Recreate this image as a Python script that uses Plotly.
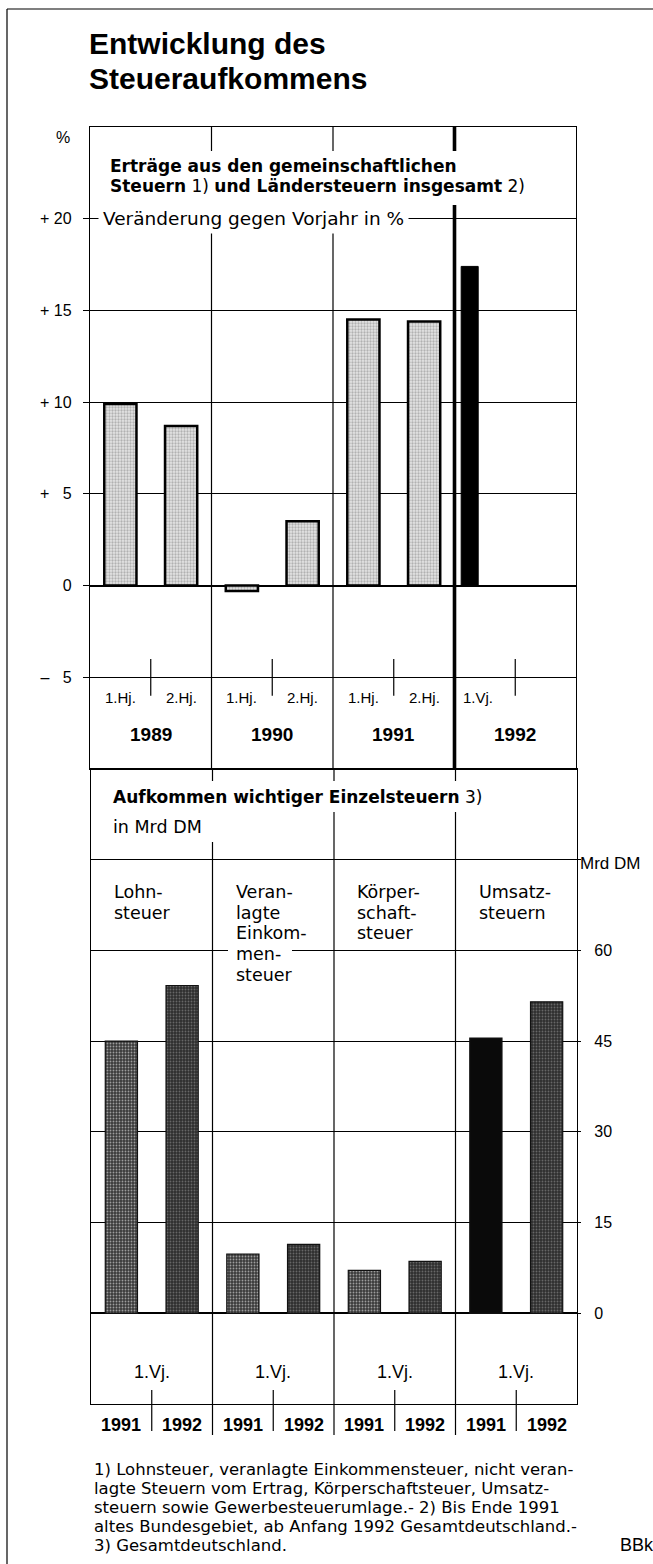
import plotly.graph_objects as go

W, H = 653, 1564

# ---------------- data: upper panel (change on previous year, %)
period_years = ["1989", "1989", "1990", "1990", "1991", "1991", "1992"]
periods = ["1.Hj.", "2.Hj.", "1.Hj.", "2.Hj.", "1.Hj.", "2.Hj.", "1.Vj."]
growth = [9.9, 8.7, -0.3, 3.5, 14.5, 14.4, 17.4]
year_labels = ["1989", "1990", "1991", "1992"]
growth_ticks = [-5, 0, 5, 10, 15, 20]
growth_ticktext = ["\u2013 \u20075", "0", "+ \u20075", "+ 10", "+ 15", "+ 20"]

# ---------------- data: lower panel (revenue, bn DM, 1st quarter)
taxes = ["Lohnsteuer", "Veranlagte Einkommensteuer", "Körperschaftsteuer", "Umsatzsteuern"]
tax_label_lines = [["Lohn-", "steuer"],
                   ["Veran-", "lagte", "Einkom-", "men-", "steuer"],
                   ["Körper-", "schaft-", "steuer"],
                   ["Umsatz-", "steuern"]]
tax_years = ["1991", "1992"]
revenue_1991 = [45.0, 9.8, 7.1, 45.5]
revenue_1992 = [54.2, 11.4, 8.6, 51.5]
revenue_ticks = [0, 15, 30, 45, 60, 75]
revenue_ticktext = ["0", "15", "30", "45", "60", ""]

footnote_lines = [
    "1) Lohnsteuer, veranlagte Einkommensteuer, nicht veran-",
    "lagte Steuern vom Ertrag, Körperschaftsteuer, Umsatz-",
    "steuern sowie Gewerbesteuerumlage.- 2) Bis Ende 1991",
    "altes Bundesgebiet, ab Anfang 1992 Gesamtdeutschland.-",
    "3) Gesamtdeutschland.",
]

LIB = "Liberation Sans, Arial, Helvetica, sans-serif"
DJV = "DejaVu Sans, Verdana, sans-serif"


def px(x):
    return x / W


def py(y):
    return 1 - y / H


# geometry (pixels) of the two panels
TOP_L, TOP_R, TOP_T, TOP_B = 90, 576, 127, 769
LOW_L, LOW_R, LOW_T, LOW_B = 91, 577, 769, 1404

fig = go.Figure()

# ---- upper bars
top_cats = [f"{y} {p}" for y, p in zip(period_years, periods)]
fig.add_trace(go.Bar(
    x=top_cats[:6], y=growth[:6], xaxis="x", yaxis="y", width=0.53,
    marker=dict(color="#d0d0d0", line=dict(color="black", width=2.5),
                pattern=dict(shape=".", fgcolor="#7d7d7d", bgcolor="#e4e4e4",
                             size=3, solidity=0.45)),
    name="altes Bundesgebiet", showlegend=False, hoverinfo="x+y"))
BLACK_OFF, BLACK_W = -0.39, 0.28
fig.add_trace(go.Bar(
    x=top_cats[6:], y=growth[6:], xaxis="x", yaxis="y", width=BLACK_W, offset=BLACK_OFF,
    marker=dict(color="black", line=dict(color="black", width=1)),
    name="Gesamtdeutschland", showlegend=False, hoverinfo="x+y"))

# ---- lower bars
low_cats = [f"{t} {yr}" for t in taxes for yr in tax_years]
fig.add_trace(go.Bar(
    x=[f"{t} 1991" for t in taxes], y=revenue_1991, xaxis="x2", yaxis="y2", width=0.53,
    marker=dict(color=["#3a3a3a", "#3a3a3a", "#3a3a3a", "#0a0a0a"],
                line=dict(color="#111", width=1.2), pattern=dict(
                    shape=[".", ".", ".", ""], fgcolor="#a0a0a0",
                    bgcolor=["#2e2e2e", "#2e2e2e", "#2e2e2e", "#0a0a0a"],
                    size=3, solidity=0.3)),
    name="1991", showlegend=False, hoverinfo="x+y"))
fig.add_trace(go.Bar(
    x=[f"{t} 1992" for t in taxes], y=revenue_1992, xaxis="x2", yaxis="y2", width=0.53,
    marker=dict(color="#3a3a3a", line=dict(color="#111", width=1.2),
                pattern=dict(shape=".", fgcolor="#a0a0a0", bgcolor="#2e2e2e",
                             size=3, solidity=0.3)),
    name="1992", showlegend=False, hoverinfo="x+y"))

axis_common = dict(showline=True, mirror=True, linecolor="black", linewidth=1.3,
                   fixedrange=True)

fig.update_layout(
    width=W, height=H, margin=dict(l=0, r=0, t=0, b=0),
    paper_bgcolor="white", plot_bgcolor="white", barmode="overlay",
    font=dict(family=LIB, size=16, color="black"),
    xaxis=dict(domain=[px(TOP_L), px(TOP_R)], anchor="y", type="category",
               categoryorder="array", categoryarray=top_cats, range=[-0.5, 7.5],
               showgrid=False, showticklabels=False, ticks="", zeroline=False,
               **axis_common),
    yaxis=dict(domain=[py(TOP_B), py(TOP_T)], anchor="x", range=[-10, 25],
               tickvals=growth_ticks, ticktext=growth_ticktext, ticks="outside",
               ticklen=6, tickcolor="black", tickwidth=1, ticklabelstandoff=8,
               tickfont=dict(size=16, family=LIB), showgrid=True, gridcolor="black",
               gridwidth=1, zeroline=True, zerolinecolor="black", zerolinewidth=2.4,
               **axis_common),
    xaxis2=dict(domain=[px(LOW_L), px(LOW_R)], anchor="y2", type="category",
                categoryorder="array", categoryarray=low_cats, range=[-0.5, 7.5],
                showgrid=False, showticklabels=False, ticks="", zeroline=False,
                **axis_common),
    yaxis2=dict(domain=[py(LOW_B), py(LOW_T)], anchor="x2", side="right",
                range=[-15, 90], tickvals=revenue_ticks, ticktext=revenue_ticktext,
                ticks="outside", ticklen=3, tickcolor="black", ticklabelstandoff=10,
                tickfont=dict(size=16, family=LIB), showgrid=True, gridcolor="black",
                gridwidth=1, zeroline=True, zerolinecolor="black", zerolinewidth=2.4,
                **axis_common),
)

shapes = []
line = dict(color="black", width=1.2)
# outer frame (top + left)
shapes.append(dict(type="line", xref="paper", yref="paper", x0=px(7), x1=1, y0=py(9), y1=py(9), line=line))
shapes.append(dict(type="line", xref="paper", yref="paper", x0=px(7), x1=px(7), y0=py(9), y1=0, line=line))

# upper panel: column separators and half-year ticks
for k in range(1, 4):
    xb = 2 * k - 0.5
    shapes.append(dict(type="line", xref="x", yref="y", x0=xb, x1=xb, y0=-10, y1=25,
                       line=dict(color="black", width=3.6 if k == 3 else 1.2),
                       layer="above"))
for k in range(4):
    xm = 2 * k + 0.5
    shapes.append(dict(type="line", xref="x", yref="y", x0=xm, x1=xm, y0=-4.0, y1=-6.0,
                       line=line))


# lower panel (domain refs so nothing is clipped)
def fy(ypix):
    return (LOW_B - ypix) / (LOW_B - LOW_T)


for k in range(1, 4):
    fx = (2 * k) / 8
    restart = 842 if k == 1 else 812
    for a, b in [(LOW_T, 781), (restart, 1435)]:
        shapes.append(dict(type="line", xref="x2 domain", yref="y2 domain", x0=fx, x1=fx,
                           y0=fy(a), y1=fy(b), line=line, layer="above"))
for k in range(4):
    fx = (2 * k + 1) / 8
    shapes.append(dict(type="line", xref="x2 domain", yref="y2 domain", x0=fx, x1=fx,
                       y0=fy(1390), y1=fy(1431), line=line))


# white masks behind text blocks (lines in the original are broken by the text)
def mask(x0, x1, y0, y1):
    shapes.append(dict(type="rect", xref="paper", yref="paper", x0=px(x0), x1=px(x1),
                       y0=py(y1), y1=py(y0), fillcolor="white", line=dict(width=0),
                       layer="above"))


mask(104, 459, 151, 205)
mask(459, 522, 174, 199)
mask(228, 292, 944, 959)
fig.update_layout(shapes=shapes)

ann = []


def txt(text, x, y, xref="paper", yref="paper", xanchor="left", yanchor="middle",
        size=16, family=LIB, bg=None, pad=1):
    d = dict(xref=xref, yref=yref, x=x, y=y, xanchor=xanchor, yanchor=yanchor, text=text,
             showarrow=False, align="left", font=dict(size=size, family=family),
             borderpad=pad)
    if bg:
        d["bgcolor"] = bg
    ann.append(d)


# main title
txt("<b>Entwicklung des</b>", px(87), py(43), size=30)
txt("<b>Steueraufkommens</b>", px(87), py(78), size=30)

# upper panel texts
txt("%", px(63), py(137), xanchor="center", size=16)
txt("<b>Erträge aus den gemeinschaftlichen</b>", px(108), py(166), size=17, family=DJV)
txt("<b>Steuern</b> 1) <b>und Ländersteuern insgesamt</b> 2)", px(108), py(186), size=17,
    family=DJV)
txt("Veränderung gegen Vorjahr in %", px(98), py(218), size=18.5, family=DJV,
    bg="white", pad=4)
for i, p in enumerate(periods):
    if p == "1.Vj.":
        txt(p, i + BLACK_OFF, -6.1, xref="x", yref="y", size=15)
    else:
        txt(p, i, -6.1, xref="x", yref="y", xanchor="center", size=15)
for k, yl in enumerate(year_labels):
    txt(f"<b>{yl}</b>", 2 * k + 0.5, -8.1, xref="x", yref="y", xanchor="center", size=19)

# lower panel texts
txt("<b>Aufkommen wichtiger Einzelsteuern</b> 3)", px(110), py(797), size=17, family=DJV,
    bg="white", pad=2)
txt("in Mrd DM", px(110), py(827), size=17.5, family=DJV, bg="white", pad=2)
for i, lines in enumerate(tax_label_lines):
    for k, ln in enumerate(lines):
        txt(ln, 2 * i - 0.15, py(892 + 20.7 * k), xref="x2", size=17.5, family=DJV)
    txt("1.Vj.", 2 * i + 0.5, -9.7, xref="x2", yref="y2", xanchor="center", size=18)
    for j, yr in enumerate(tax_years):
        txt(f"<b>{yr}</b>", (2 * i + j + 0.5) / 8, fy(1425), xref="x2 domain",
            yref="y2 domain", xanchor="center", size=18)
txt("Mrd DM", px(578), py(864), size=17)

# footnotes
for k, ln in enumerate(footnote_lines):
    txt(ln, px(92), py(1469 + 19 * k), size=16.5, family=DJV)
txt("BBk", px(618), py(1545), size=18)
fig.update_layout(annotations=ann)

fig.write_html(
    "out.html",
    config={"displayModeBar": False},
    post_script="document.body.style.margin='0px';document.body.style.padding='0px';"
                "document.documentElement.style.overflow='hidden';",
)
